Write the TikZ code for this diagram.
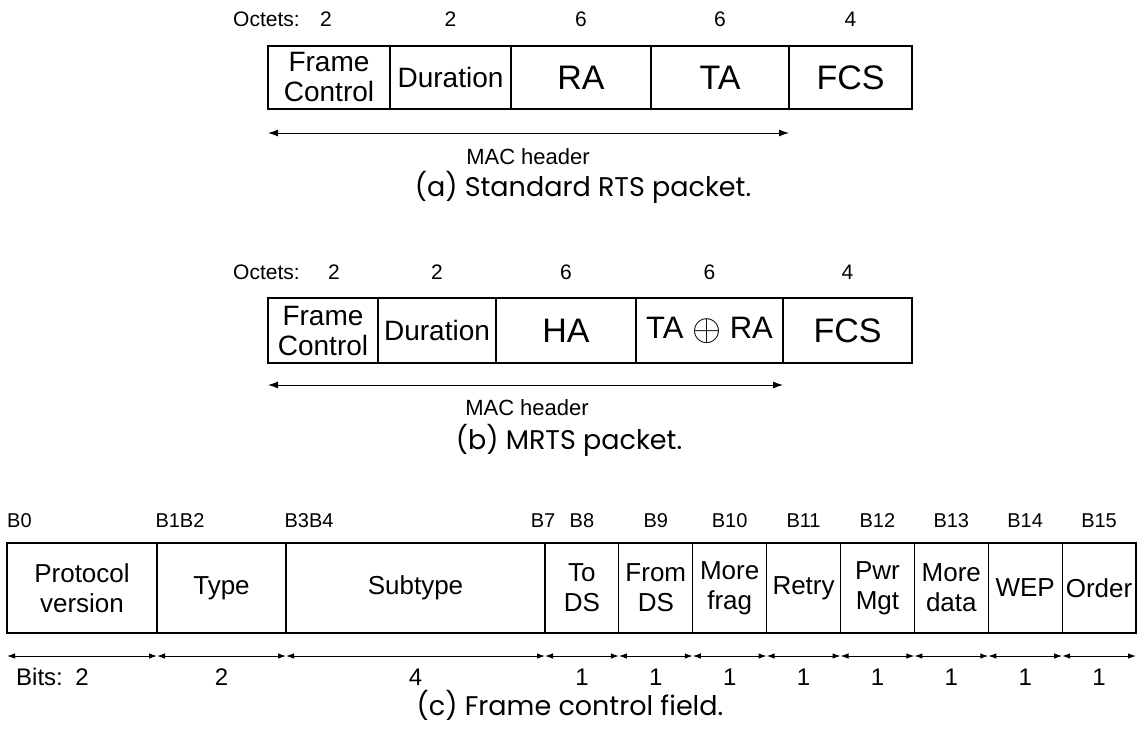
\documentclass[tikz,border=0pt]{standalone}
\usepackage{fontspec}
\setmainfont{Liberation Sans}
\newfontfamily\capfont{Poppins}
\usetikzlibrary{positioning,arrows.meta}

\tikzset{
  fld/.style={draw, line width=1.1pt, inner sep=0pt, outer sep=0pt, align=center,
    font=\fontsize{28}{30}\selectfont},
  big/.style={font=\fontsize{34}{36}\selectfont},
  bfld/.style={fld, minimum height=90, font=\fontsize{26}{30}\selectfont},
  onebit/.style={bfld, minimum width=73.875, right=0pt of #1},
  octlbl/.style={inner sep=0pt, font=\fontsize{21}{23}\selectfont},
  bitlbl/.style={inner sep=0pt, font=\fontsize{24}{26}\selectfont},
  blbl/.style={inner sep=0pt, font=\fontsize{20}{22}\selectfont},
  maclbl/.style={inner sep=0pt, font=\fontsize{22}{24}\selectfont},
  caption/.style={inner sep=0pt, font=\capfont\fontsize{27}{29}\selectfont},
  span/.style={<->, line width=1pt},
}

\begin{document}
\begin{tikzpicture}[x=1pt, y=-1pt, >={Latex[length=10pt,width=7pt]}]
    \useasboundingbox (0,0) rectangle (1141,729);

    % (a) Standard RTS packet
    \node[fld, minimum width=122, minimum height=63] (afc) at (329,77.5) {Frame\\Control};
    \node[fld, minimum width=121, minimum height=63, right=0pt of afc] (adur) {Duration};
    \node[fld, big, minimum width=140, minimum height=63, right=0pt of adur] (ara) {RA};
    \node[fld, big, minimum width=138, minimum height=63, right=0pt of ara] (ata) {TA};
    \node[fld, big, minimum width=123, minimum height=63, right=0pt of ata] (afcs) {FCS};

    \node[octlbl, anchor=west] (aoct) at (233,19) {Octets:};
    \node[octlbl] (ao1) at (326,19) {2};
    \node[octlbl] (ao2) at (adur.north |- 0,19) {2};
    \node[octlbl] (ao3) at (ara.north |- 0,19) {6};
    \node[octlbl] (ao4) at (ata.north |- 0,19) {6};
    \node[octlbl] (ao5) at (afcs.north |- 0,19) {4};

    \draw[span] ([yshift=-24pt]afc.south west) -- ([yshift=-24pt]ata.south east);
    \node[maclbl] (amac) at (528,157) {MAC header};
    \node[caption] (acap) at (583,187) {(a) Standard RTS packet.};

    % (b) MRTS packet
    \node[fld, minimum width=110, minimum height=65] (bfc) at (323,330.5) {Frame\\Control};
    \node[fld, minimum width=118, minimum height=65, right=0pt of bfc] (bdur) {Duration};
    \node[fld, big, minimum width=140, minimum height=65, right=0pt of bdur] (bha) {HA};
    \node[fld, minimum width=147, minimum height=65, right=0pt of bha, font=\fontsize{31}{33}\selectfont] (bxor)
        {TA \raisebox{-2pt}{\scalebox{1.5}{$\oplus$}} RA};
    \node[fld, big, minimum width=129, minimum height=65, right=0pt of bxor] (bfcs) {FCS};

    \node[octlbl, anchor=west] (boct) at (233,272) {Octets:};
    \node[octlbl] (bo1) at (334,272) {2};
    \node[octlbl] (bo2) at (bdur.north |- 0,272) {2};
    \node[octlbl] (bo3) at (bha.north |- 0,272) {6};
    \node[octlbl] (bo4) at (bxor.north |- 0,272) {6};
    \node[octlbl] (bo5) at (bfcs.north |- 0,272) {4};

    \draw[span] ([yshift=-22pt]bfc.south west) -- ([yshift=-22pt]bxor.south east);
    \node[maclbl] (bmac) at (527,408) {MAC header};
    \node[caption] (bcap) at (569,440) {(b) MRTS packet.};

    % (c) Frame control field
    \node[bfld, minimum width=150] (pv) at (82,588) {Protocol\\version};
    \node[bfld, minimum width=129, right=0pt of pv] (ty) {Type};
    \node[bfld, minimum width=259, right=0pt of ty] (st) {Subtype};
    \node[onebit=st] (tds) {To\\DS};
    \node[onebit=tds] (fds) {From\\DS};
    \node[onebit=fds] (mf) {More\\frag};
    \node[onebit=mf] (rt) {Retry};
    \node[onebit=rt] (pm) {Pwr\\Mgt};
    \node[onebit=pm] (md) {More\\data};
    \node[onebit=md] (wep) {WEP};
    \node[onebit=wep] (ord) {Order};

    % bit numbers
    \node[blbl, anchor=west] (b0) at (7,521) {B0};
    \node[blbl] (b12) at (180,521) {B1B2};
    \node[blbl] (b34) at (309,521) {B3B4};
    \node[blbl] (b7) at (543,521) {B7};
    \foreach \n/\v in {tds/8, fds/9, mf/10, rt/11, pm/12, md/13, wep/14, ord/15}
        \node[blbl] (b\v) at (\n.north |- 0,521) {B\v};

    % field widths
    \foreach \n in {pv, ty, st, tds, fds, mf, rt, pm, md, wep, ord}
        \draw[span, >={Latex[length=8pt,width=5.5pt]}] ([yshift=-23pt]\n.south west) -- ([yshift=-23pt]\n.south east);
    \node[bitlbl, anchor=west] (cbits) at (16,677) {Bits:};
    \foreach \n/\v in {pv/2, ty/2, st/4, tds/1, fds/1, mf/1, rt/1, pm/1, md/1, wep/1, ord/1}
        \node[bitlbl] (w-\n) at (\n.south |- 0,677) {\v};
    \node[caption] (ccap) at (570,705) {(c) Frame control field.};
\end{tikzpicture}
\end{document}
